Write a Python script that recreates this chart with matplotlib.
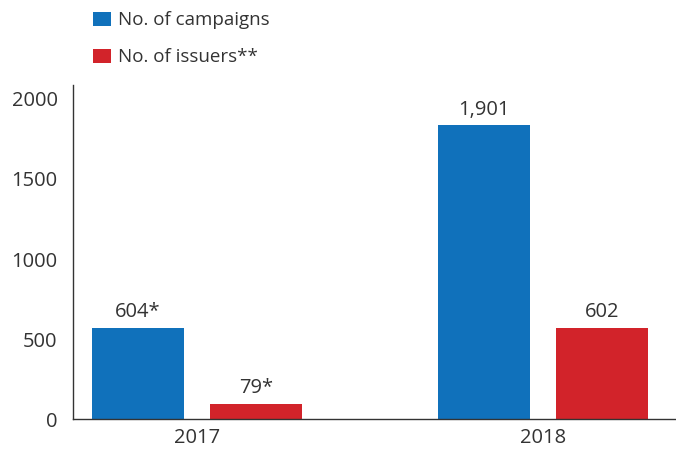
import matplotlib
matplotlib.use('Agg')
from matplotlib import pyplot as plt
import numpy as np

# data
years = ['2017', '2018']
campaigns = [572, 1835]
issuers = [97, 572]
campaign_labels = ['604*', '1,901']
issuer_labels = ['79*', '602']

blue = '#1071bb'
red = '#d2232a'
text_col = '#333333'

plt.rcParams['font.family'] = ['Open Sans', 'DejaVu Sans']
plt.rcParams['font.size'] = 14.5

fig = plt.figure(figsize=(6.76, 4.53), dpi=100)
ax = fig.add_axes([0.108, 0.074, 0.891, 0.738])

x = np.arange(len(years))
w = 0.265
off = 0.171
b1 = ax.bar(x - off, campaigns, w, color=blue, label='No. of campaigns')
b2 = ax.bar(x + off, issuers, w, color=red, label='No. of issuers**')

for bars, labels in ((b1, campaign_labels), (b2, issuer_labels)):
    for bar, lab in zip(bars, labels):
        ax.annotate(lab, (bar.get_x() + bar.get_width() / 2, bar.get_height()),
                    xytext=(0, 4), textcoords='offset points',
                    ha='center', va='bottom', color=text_col, fontsize=14.5)

ax.set_xlim(-0.359, 1.383)
ax.set_ylim(0, 2085)
ax.set_yticks([0, 500, 1000, 1500, 2000])
ax.set_xticks(x)
ax.set_xticklabels(years)
ax.tick_params(axis='both', length=0, colors=text_col, labelsize=14.5)
ax.tick_params(axis='y', pad=11)
ax.tick_params(axis='x', pad=6)

for s in ['top', 'right']:
    ax.spines[s].set_visible(False)
for s in ['left', 'bottom']:
    ax.spines[s].set_color('#333333')
    ax.spines[s].set_linewidth(1)

fig.legend(loc='upper left', bbox_to_anchor=(0.113, 1.012), frameon=False,
           handlelength=0.95, handleheight=0.75, handletextpad=0.35,
           labelspacing=1.0, labelcolor=text_col, fontsize=13.5)

fig.savefig('out.png', dpi=100)
